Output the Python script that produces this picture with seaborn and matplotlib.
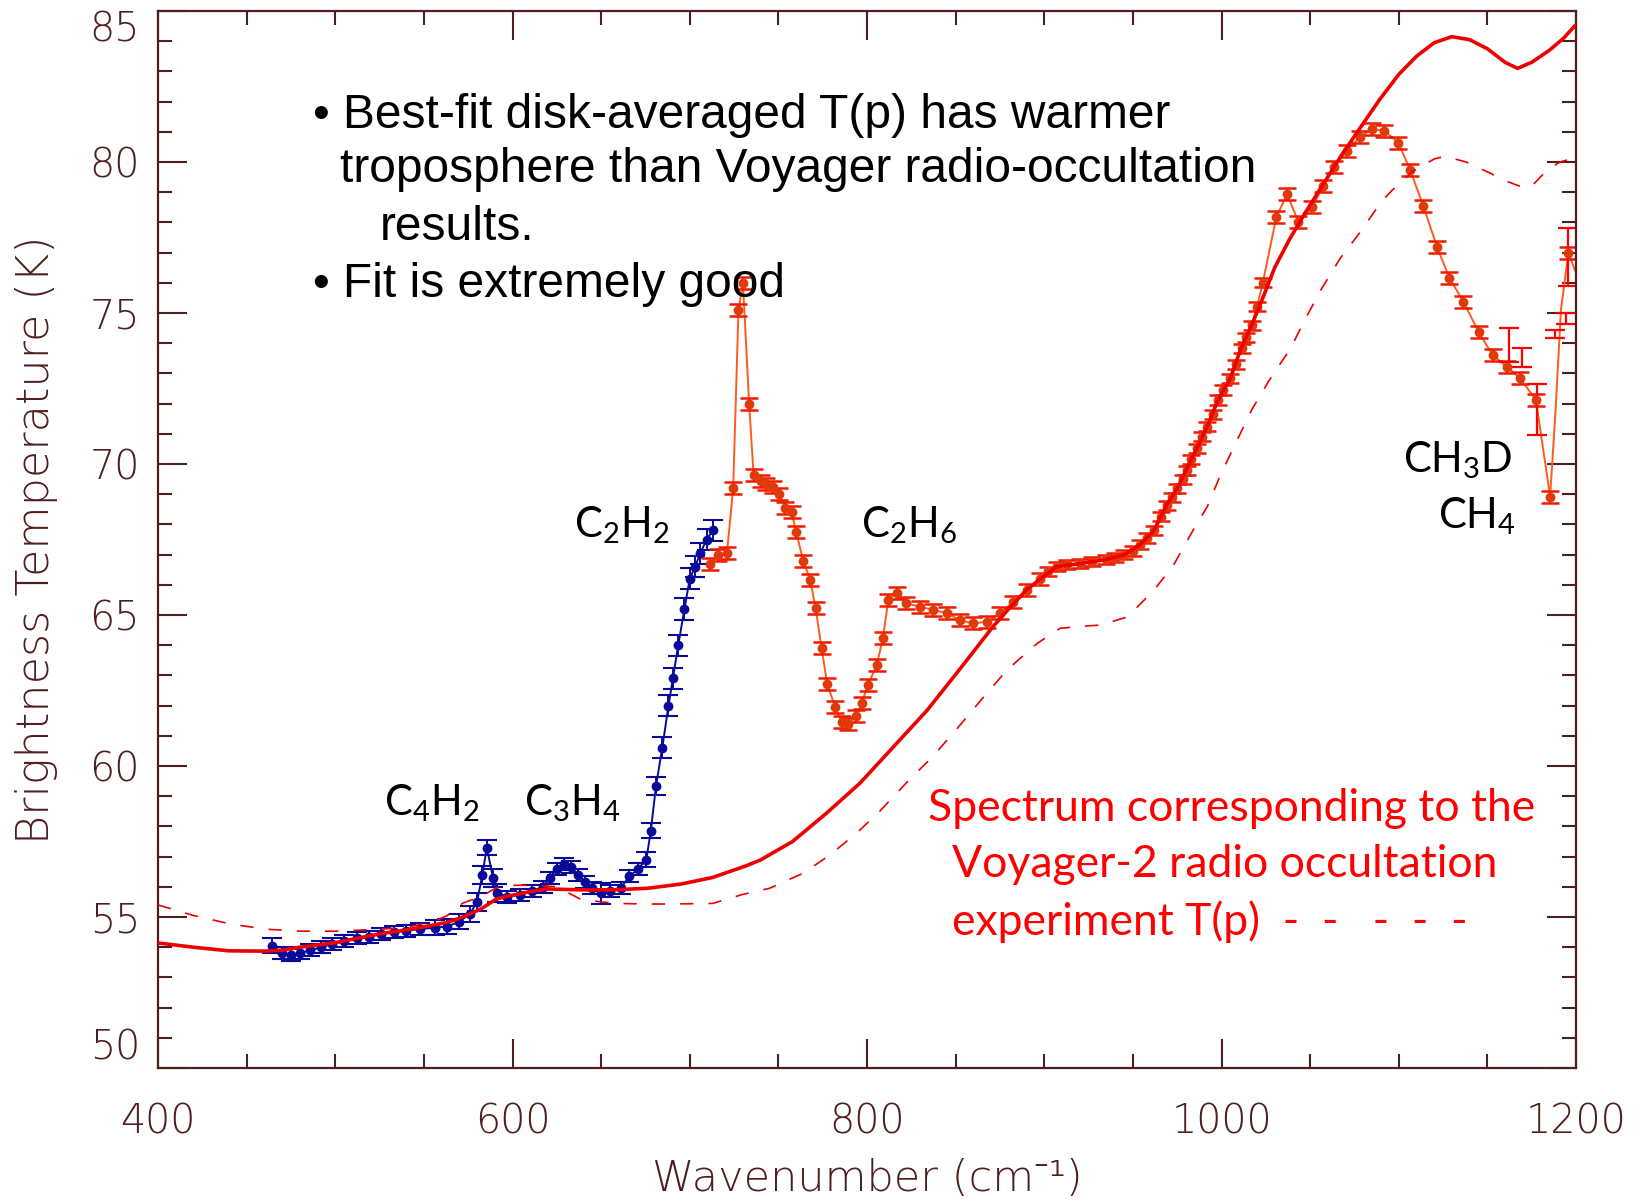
import matplotlib
matplotlib.use("Agg")
import matplotlib.pyplot as plt
from matplotlib.ticker import MultipleLocator
import seaborn as sns

# ---------------- data ----------------
# best-fit model spectrum (solid red)
model_x = [400, 420, 440, 460, 470, 480, 500, 525, 545, 563, 572, 582, 591, 600.6, 610, 619,
           638, 657, 676, 695, 713, 732, 740, 758, 777, 796, 815, 834, 852, 871, 881, 890,
           898, 907, 920, 935, 945, 954, 962, 969, 975, 980, 986, 992, 998, 1005, 1011, 1017,
           1023, 1030, 1038, 1046, 1054, 1061, 1068, 1075, 1082, 1089, 1100, 1110, 1120, 1130,
           1140, 1150, 1160, 1167, 1175, 1185, 1193, 1200]
model_y = [54.14, 54.0, 53.88, 53.87, 53.9, 54.0, 54.15, 54.44, 54.62, 54.82, 55.0, 55.26, 55.6,
           55.73, 55.84, 55.93, 55.9, 55.9, 55.95, 56.09, 56.31, 56.7, 56.89, 57.5, 58.43, 59.43,
           60.64, 61.85, 63.18, 64.61, 65.27, 65.83, 66.2, 66.6, 66.7, 66.84, 66.99, 67.32, 67.81,
           68.64, 69.19, 69.8, 70.52, 71.24, 72.12, 72.84, 73.83, 74.6, 75.45, 76.5, 77.4, 78.2,
           78.95, 79.6, 80.25, 80.85, 81.45, 82.05, 82.9, 83.5, 83.95, 84.15, 84.05, 83.75, 83.3,
           83.1, 83.3, 83.7, 84.1, 84.55]

# Voyager-2 radio-occultation T(p) spectrum (dashed red)
voy_x = [400, 420, 440, 460, 480, 500, 520, 540, 556, 563, 572, 582, 591, 600, 612, 625, 638, 650,
         660, 675, 690, 713, 730, 745, 764, 779, 794, 807, 822, 837, 851, 866, 879, 896, 909, 920,
         932, 947, 962, 973, 984, 992, 999, 1008, 1017, 1027, 1039, 1047, 1056, 1067, 1078, 1090,
         1096, 1108, 1120, 1126, 1138, 1152, 1158, 1169, 1175, 1184, 1191, 1200]
voy_y = [55.4, 55.05, 54.78, 54.6, 54.53, 54.53, 54.58, 54.65, 54.87, 55.04, 55.46, 55.67, 55.97,
         56.05, 56.05, 56.0, 55.6, 55.5, 55.45, 55.43, 55.43, 55.45, 55.75, 55.95, 56.45, 57.05,
         57.77, 58.49, 59.43, 60.31, 61.25, 62.3, 63.18, 64.06, 64.56, 64.62, 64.67, 64.94, 65.83,
         66.66, 67.81, 68.59, 69.58, 70.69, 71.79, 72.78, 73.83, 74.77, 75.76, 76.81, 77.66, 78.67,
         79.05, 79.7, 80.1, 80.19, 80.0, 79.62, 79.43, 79.18, 79.2, 79.75, 80.0, 80.15]

# observed spectrum, first module (blue)
blue_x = [464.5, 470, 475, 480, 486, 492, 498, 505, 512, 519, 526, 533, 540, 548, 556, 563, 570,
          576, 580, 583, 585.5, 589, 591.5, 597, 604, 611, 617, 621, 625, 629, 633, 637, 641, 645,
          650, 655, 661, 666, 671, 675.5, 678, 681, 684.5, 688, 690.5, 693.5, 697, 700, 703, 706,
          709.5, 713]
blue_y = [54.05, 53.8, 53.75, 53.8, 53.9, 54.0, 54.1, 54.2, 54.3, 54.35, 54.45, 54.5, 54.55, 54.6,
          54.65, 54.68, 54.85, 55.1, 55.5, 56.4, 57.3, 56.3, 55.8, 55.67, 55.73, 55.85, 56.0, 56.3,
          56.6, 56.75, 56.65, 56.4, 56.15, 55.95, 55.78, 55.85, 55.95, 56.35, 56.6, 56.9, 57.85,
          59.35, 60.6, 62.0, 62.9, 64.0, 65.2, 66.2, 66.6, 67.05, 67.5, 67.8]
blue_err = [0.25, 0.2, 0.2, 0.2, 0.2, 0.2, 0.2, 0.2, 0.2, 0.2, 0.2, 0.2, 0.2, 0.2, 0.25, 0.25,
            0.25, 0.25, 0.3, 0.3, 0.25, 0.3, 0.3, 0.2, 0.2, 0.2, 0.2, 0.2, 0.2, 0.2, 0.2, 0.2, 0.2,
            0.2, 0.35, 0.2, 0.2, 0.2, 0.2, 0.25, 0.25, 0.3, 0.35, 0.35, 0.35, 0.35, 0.35, 0.35,
            0.35, 0.35, 0.35, 0.35]

# observed spectrum, second module (orange-red)
org_x = [711.5, 716, 721, 724.5, 727.5, 730, 733.5, 736, 740, 743, 747, 750.5, 754, 757.5, 760,
         764, 768, 771, 774.4, 777.5, 782, 785.7, 789.5, 794, 797, 800.5, 805.5, 809, 812, 816.7,
         822, 830, 837.4, 845, 852.5, 860, 867.6, 875, 882.6, 890, 897.6, 902, 907, 913, 920, 927,
         935, 940, 945, 950, 954, 958, 962, 966, 969, 972, 975, 978, 980.5, 983, 986, 989, 992, 995,
         998, 1001, 1005, 1008, 1011.4, 1014, 1017, 1020, 1023.3, 1031, 1037, 1043.4, 1051, 1057.5,
         1063.5, 1070.7, 1078.2, 1084.8, 1091.7, 1099.8, 1106.4, 1113.9, 1121.5, 1128.6, 1136.5,
         1145, 1152.9, 1161, 1168.4, 1177.4, 1185.4, 1195.7]
org_y = [66.7, 67.0, 67.05, 69.2, 75.1, 76.0, 72.0, 69.65, 69.45, 69.35, 69.25, 69.0, 68.55, 68.4,
         67.75, 66.8, 66.16, 65.22, 63.9, 62.72, 61.96, 61.47, 61.39, 61.66, 62.08, 62.68, 63.34,
         64.23, 65.5, 65.72, 65.39, 65.27, 65.17, 65.06, 64.83, 64.72, 64.78, 65.06, 65.44, 65.83,
         66.2, 66.45, 66.62, 66.68, 66.71, 66.76, 66.84, 66.9, 66.99, 67.12, 67.32, 67.55, 67.81,
         68.25, 68.64, 68.9, 69.19, 69.5, 69.8, 70.15, 70.52, 70.9, 71.24, 71.65, 72.12, 72.45,
         72.84, 73.3, 73.83, 74.2, 74.6, 75.2, 76.0, 78.19, 78.93, 78.02, 78.5, 79.2, 79.84, 80.37,
         80.84, 81.08, 81.04, 80.64, 79.74, 78.54, 77.2, 76.16, 75.37, 74.38, 73.61, 73.22, 72.84,
         72.12, 68.92, 77.0]
org_err = [0.2] * 41 + [0.15] * 32 + [0.2] * 23
# connecting-line vertices in the CH4 band that carry no symbol
ch4_line_x = [1188.5, 1191.5, 1199.5]
ch4_line_y = [71.8, 75.1, 76.4]

# noisier CH4-band points (red error bars only)
ch4_x = [1162.4, 1169.4, 1177.9, 1188.2, 1194.4, 1195.7]
ch4_y = [73.94, 73.52, 71.8, 74.3, 74.82, 76.85]
ch4_err = [0.55, 0.31, 0.85, 0.14, 0.17, 0.95]

x_ticks = [400, 600, 800, 1000, 1200]
y_ticks = [50, 55, 60, 65, 70, 75, 80, 85]

bullet_lines = ["\u2022 Best-fit disk-averaged T(p) has warmer",
                "troposphere than Voyager radio-occultation",
                "results.",
                "\u2022 Fit is extremely good"]
red_lines = ["Spectrum corresponding to the",
             "Voyager-2 radio occultation",
             "experiment T(p)  -  -   -  -  -"]
molecules = ["C$_4$H$_2$", "C$_3$H$_4$", "C$_2$H$_2$", "C$_2$H$_6$", "CH$_3$D", "CH$_4$"]

# ---------------- styling ----------------
sns.set_theme(style="ticks")
plt.rcParams["font.family"] = ["DejaVu Sans", "Noto Sans"]
plt.rcParams["mathtext.fontset"] = "custom"
plt.rcParams["mathtext.rm"] = "Lato"
plt.rcParams["mathtext.it"] = "Lato:italic"
plt.rcParams["mathtext.bf"] = "Lato:bold"

AXC = "#4f1e1e"
BLUE = "#0a0a9a"
ORANGE = "#ff5a1e"
ORMARK = "#e03a0a"
RED = "#ee0000"
AXFONT = ["DejaVu Sans", "Noto Sans", "Liberation Sans"]

W, H = 1647, 1204
fig = plt.figure(figsize=(W / 100, H / 100), dpi=100)
fig.patch.set_facecolor("white")
ax = fig.add_axes([158 / W, 1 - 1068 / H, 1418 / W, 1057 / H])
ax.set_facecolor("white")

# blue module
ax.errorbar(blue_x, blue_y, yerr=blue_err, fmt="none", ecolor=BLUE, elinewidth=1.4,
            capsize=7, capthick=1.5, zorder=2)
sns.lineplot(x=blue_x, y=blue_y, ax=ax, color=BLUE, lw=1.4, estimator=None, sort=True, zorder=2)
sns.scatterplot(x=blue_x, y=blue_y, ax=ax, color=BLUE, s=50, marker="o", edgecolor=BLUE,
                linewidth=0, zorder=3)

# orange module
line_x = org_x + ch4_line_x
line_y = org_y + ch4_line_y
sns.lineplot(x=line_x, y=line_y, ax=ax, color=ORANGE, lw=1.4, estimator=None, sort=True, zorder=2)
ax.errorbar(org_x, org_y, yerr=org_err, fmt="none", ecolor="#f01a00", elinewidth=1.4,
            capsize=6.5, capthick=1.8, zorder=2)
ax.errorbar(ch4_x, ch4_y, yerr=ch4_err, fmt="none", ecolor="#ff0000", elinewidth=1.6,
            capsize=7, capthick=1.6, zorder=2)
sns.scatterplot(x=org_x, y=org_y, ax=ax, color=ORMARK, s=50, marker="o", linewidth=0, zorder=3)

# model spectra
sns.lineplot(x=model_x, y=model_y, ax=ax, color=RED, lw=2.6, estimator=None, sort=True, zorder=4)
sns.lineplot(x=voy_x, y=voy_y, ax=ax, color=RED, lw=1.2, estimator=None, sort=True, zorder=4)
ax.lines[-1].set_dashes([8, 9])

# axes
ax.set_xlim(400, 1200)
ax.set_ylim(50, 85)
ax.set_xticks(x_ticks)
ax.set_yticks(y_ticks)
ax.set_xticklabels([str(v) for v in x_ticks], fontweight="light", family=AXFONT)
ax.set_yticklabels([str(v) for v in y_ticks], fontweight="light", family=AXFONT)
ax.xaxis.set_minor_locator(MultipleLocator(50))
ax.yaxis.set_minor_locator(MultipleLocator(1))
ax.tick_params(which="both", direction="in", top=True, right=True, color=AXC, width=1.5)
ax.tick_params(which="major", length=21)
ax.tick_params(which="minor", length=10)
ax.tick_params(axis="x", which="major", pad=25, labelsize=28.5, labelcolor=AXC)
ax.tick_params(axis="y", which="major", pad=13, labelsize=28.5, labelcolor=AXC)
for sp in ax.spines.values():
    sp.set_color(AXC)
    sp.set_linewidth(1.6)
ax.grid(False)

yt = ax.yaxis.get_major_ticks()
yt[0].label1.set_va("bottom")
yt[-1].label1.set_va("top")

ax.set_xlabel("Wavenumber (cm\u207b\u00b9)", fontsize=31, color=AXC, fontweight="light",
              family=AXFONT)
ax.set_ylabel("Brightness Temperature (K)", fontsize=32, color=AXC, fontweight="light",
              family=AXFONT)
ax.xaxis.set_label_coords(0.5, (1068 - 1178) / 1057)
ax.xaxis.label.set_va("center")
ax.yaxis.set_label_coords((37 - 158) / 1418, 0.5)
ax.yaxis.label.set_va("center")
ax.yaxis.label.set_ha("center")

# annotations (positions in figure pixels)
def ftext(px, py, s, **kw):
    fig.text(px / W, 1 - py / H, s, va="baseline", ha=kw.pop("ha", "left"), **kw)

bx = [313, 340, 380, 313]
by = [128, 182, 240, 297]
for s, x, y in zip(bullet_lines, bx, by):
    ftext(x, y, s, fontsize=34.5, family="Liberation Sans", color="black")

rx = [928, 952, 952]
ry = [821, 877, 935]
for s, x, y in zip(red_lines, rx, ry):
    ftext(x, y, s, fontsize=32, family="Lato", color="#ff0000")

mx = [432, 572, 622, 909, 1458, 1477]
my = [815, 815, 537, 537, 472, 528]
for s, x, y in zip(molecules, mx, my):
    ftext(x, y, s, fontsize=30, family="Lato", color="black", ha="center")

fig.savefig("out.png", dpi=100, facecolor="white")
